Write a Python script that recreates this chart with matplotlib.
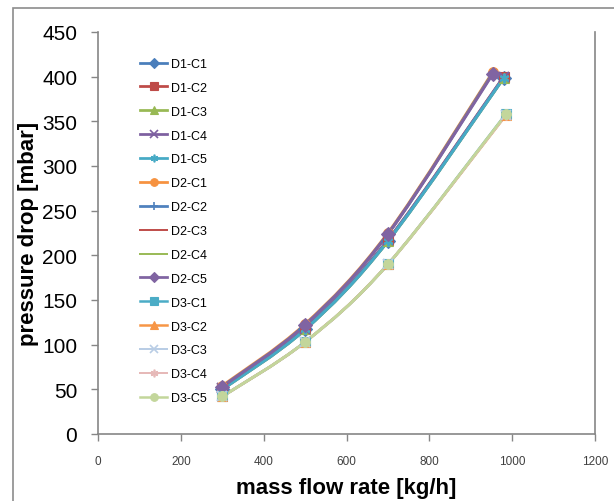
import matplotlib
matplotlib.use("Agg")
import matplotlib.pyplot as plt
from matplotlib.path import Path
from matplotlib.patches import PathPatch, Rectangle
from matplotlib.lines import Line2D
import numpy as np

# data
labels = ["D1-C1", "D1-C2", "D1-C3", "D1-C4", "D1-C5",
          "D2-C1", "D2-C2", "D2-C3", "D2-C4", "D2-C5",
          "D3-C1", "D3-C2", "D3-C3", "D3-C4", "D3-C5"]

x_d1 = [300, 500, 700, 980]
x_d2 = [300, 500, 700, 953]
x_d3 = [300, 500, 700, 985]

y_d1 = [
    [50, 117, 216, 399],
    [51, 118, 217, 400],
    [50, 117, 216, 399],
    [51, 118, 217, 400],
    [50, 117, 216, 399],
]
y_d2 = [
    [54, 123, 225, 405],
    [53, 122, 224, 404],
    [53, 122, 224, 404],
    [53, 122, 224, 404],
    [53, 122, 224, 403],
]
y_d3 = [
    [42, 103, 190, 358],
    [42, 103, 190, 357],
    [42, 103, 190, 357],
    [42, 103, 190, 357],
    [42, 103, 190, 358],
]

x_ticks = [0, 200, 400, 600, 800, 1000, 1200]
y_ticks = list(range(0, 451, 50))

colors = ["#4A7EBB", "#BE4B48", "#98B954", "#7D60A0", "#46AAC5",
          "#F69240", "#4F81BD", "#C0504D", "#9BBB59", "#8064A2",
          "#4BACC6", "#F79646", "#B9CDE5", "#E6B9B8", "#C3D69B"]
markers = ["D", "s", "^", "x", (6, 2, 0),
           "o", "+", None, None, "D",
           "s", "^", "x", (6, 2, 0), "o"]


def smooth_path(xs, ys):
    # Catmull-Rom style bezier through the points (like Excel's smoothed line)
    pts = np.column_stack([xs, ys]).astype(float)
    ext = np.vstack([pts[0], pts, pts[-1]])
    verts = [pts[0]]
    codes = [Path.MOVETO]
    for i in range(len(pts) - 1):
        p0, p1, p2, p3 = ext[i], ext[i + 1], ext[i + 2], ext[i + 3]
        c1 = p1 + (p2 - p0) / 6.0
        c2 = p2 - (p3 - p1) / 6.0
        verts += [c1, c2, p2]
        codes += [Path.CURVE4] * 3
    return Path(verts, codes)


plt.rcParams["font.family"] = ["Liberation Sans", "DejaVu Sans"]

fig = plt.figure(figsize=(6.14, 5.02), dpi=100)
# outer chart-area border
fig.patches.append(Rectangle((13 / 614, -0.1), 1.2, 1 - 9 / 502 + 0.1,
                             transform=fig.transFigure, fill=False,
                             edgecolor="#8c8c8c", linewidth=1.2))
ax = fig.add_axes([98 / 614, 1 - 435 / 502, 497 / 614, 402 / 502])

series_x = [x_d1] * 5 + [x_d2] * 5 + [x_d3] * 5
series_y = y_d1 + y_d2 + y_d3
thin = ("x", "+", (6, 2, 0))

handles = []
for i in range(15):
    lw = 2.2 if i < 10 else 2.0
    if labels[i] in ("D2-C3", "D2-C4", "D3-C3", "D3-C4"):
        lw = 1.6
    patch = PathPatch(smooth_path(series_x[i], series_y[i]), fill=False,
                      edgecolor=colors[i], linewidth=lw, zorder=2 + i * 0.01)
    ax.add_patch(patch)
    if markers[i] is not None:
        ax.plot(series_x[i], series_y[i], linestyle="none", marker=markers[i],
                markersize=7, color=colors[i],
                markeredgewidth=1.5 if markers[i] in thin else 0.8,
                zorder=3 + i * 0.01)
    handles.append(Line2D([], [], color=colors[i], linewidth=lw * 0.9,
                          marker=markers[i], markersize=5.5,
                          markeredgewidth=1.2 if markers[i] in thin else 0.8))

ax.set_xlim(0, 1200)
ax.set_ylim(0, 450)
ax.set_xticks(x_ticks)
ax.set_yticks(y_ticks)
ax.set_xticklabels([str(v) for v in x_ticks], fontsize=8.5, color="#404040")
ax.set_yticklabels([str(v) for v in y_ticks], fontsize=15)
ax.tick_params(axis="x", direction="out", length=5, width=1, color="#868686", pad=10)
ax.tick_params(axis="y", direction="out", length=5, width=1, color="#868686", pad=10)

for side in ("left", "bottom", "right"):
    ax.spines[side].set_color("#868686")
    ax.spines[side].set_linewidth(1.2)
ax.spines["top"].set_visible(False)

ax.set_xlabel("mass flow rate [kg/h]", fontsize=16, fontweight="bold")
ax.set_ylabel("pressure drop [mbar]", fontsize=16, fontweight="bold")
ax.xaxis.set_label_coords(0.5, -0.132)
ax.yaxis.set_label_coords(-0.14, 0.5)
ax.xaxis.label.set_va("center")
ax.yaxis.label.set_va("center")

ax.legend(handles, labels, loc="upper left", bbox_to_anchor=(0.074, 0.948),
          frameon=False, fontsize=9, handlelength=2.2, labelspacing=0.95,
          handletextpad=0.3, borderaxespad=0)

fig.savefig("out.png", dpi=100)
